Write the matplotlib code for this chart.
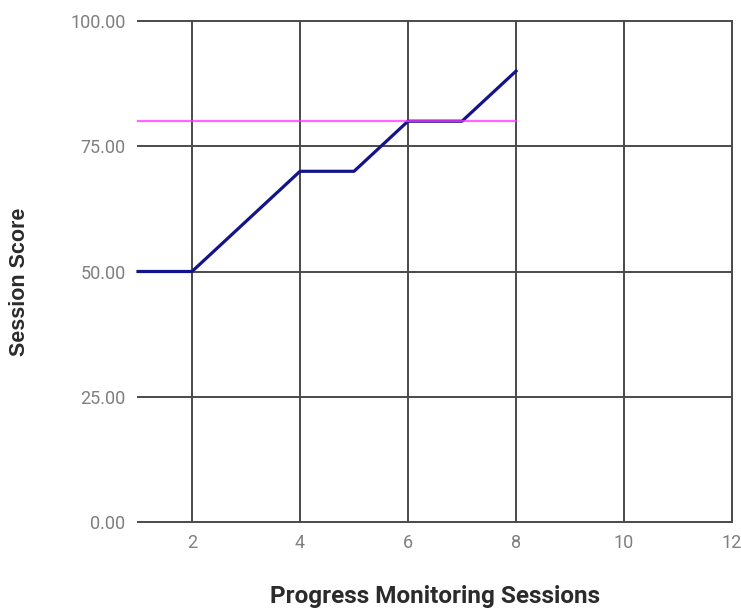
import matplotlib
matplotlib.use("Agg")
import matplotlib.pyplot as plt

sessions = [1, 2, 3, 4, 5, 6, 7, 8]
scores = [50, 50, 60, 70, 70, 80, 80, 90]
goal_x = [1, 8]
goal_y = [80, 80]
x_ticks = [2, 4, 6, 8, 10, 12]
y_ticks = [0, 25, 50, 75, 100]

fig = plt.figure(figsize=(7.41, 6.11), dpi=100)
ax = fig.add_axes([138 / 741, 1 - 522 / 611, (732 - 138) / 741, (522 - 21) / 611])

ax.set_xlim(1, 12)
ax.set_ylim(0, 100)
ax.set_xticks(x_ticks)
ax.set_yticks(y_ticks)
ax.set_yticklabels([f"{v:.2f}" for v in y_ticks])

for s in ax.spines.values():
    s.set_visible(False)
ax.tick_params(length=0, labelsize=13, labelcolor="#7f7f7f", pad=9)
for lab in ax.get_xticklabels() + ax.get_yticklabels():
    lab.set_fontfamily("Roboto")

ax.grid(True, color="#4a4a4a", linewidth=1.4)
for gl in ax.get_xgridlines() + ax.get_ygridlines():
    gl.set_clip_on(False)
ax.set_axisbelow(True)

ax.plot(sessions, scores, color="#14148a", linewidth=2.3, zorder=3, clip_on=False)
ax.plot(goal_x, goal_y, color="#ff33ff", linewidth=1.6, alpha=0.75, zorder=4, clip_on=False)

fig.text(435 / 741, 1 - 597 / 611, "Progress Monitoring Sessions", fontsize=17.5,
         fontweight="bold", color="#2b2b2b", family="Roboto", ha="center", va="center")
fig.text(20 / 741, 1 - 282 / 611, "Session Score", fontsize=15.5, fontweight="bold",
         color="#2b2b2b", family="Liberation Sans", ha="center", va="center", rotation=90)

fig.savefig("out.png", dpi=100)
